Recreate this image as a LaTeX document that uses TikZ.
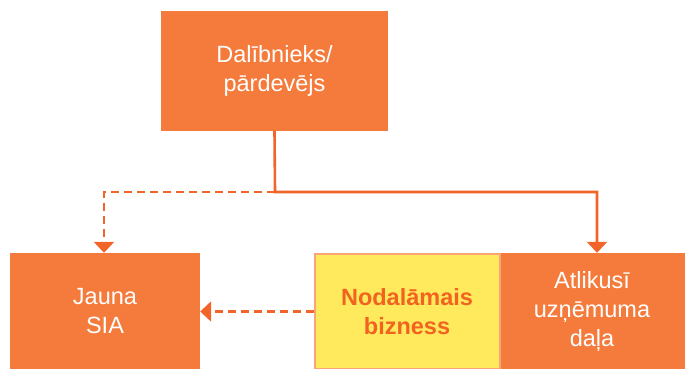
\documentclass[tikz,border=0pt]{standalone}
\usepackage{fontspec}
\setmainfont{Liberation Sans}
\usetikzlibrary{arrows.meta}
\definecolor{boxor}{HTML}{F47B3B}
\definecolor{lineor}{HTML}{F1652A}
\definecolor{yel}{HTML}{FFEA5E}
\definecolor{salmon}{HTML}{F9A577}
\definecolor{boldor}{HTML}{F1631F}
\tikzset{
  box/.style={fill=boxor, text=white, align=center, inner sep=0pt, font=\fontsize{23.5}{29}\selectfont},
  ybox/.style={fill=yel, draw=salmon, line width=2pt, text=boldor, align=center, inner sep=0pt, font=\fontsize{23.5}{29}\selectfont\bfseries},
  conn/.style={draw=lineor, line width=2.6pt, -{Triangle[width=20pt,length=11pt]}, color=lineor},
  dconn/.style={conn, dash pattern=on 8pt off 5pt},
}
\begin{document}
\begin{tikzpicture}[x=1pt,y=1pt]
\useasboundingbox (0,0) rectangle (685,369);
\node[box, minimum width=227pt, minimum height=120pt] (top) at (274.5,298) {Dalībnieks/\\pārdevējs};
\node[box, minimum width=190pt, minimum height=117pt] (jauna) at (105,57.5) {Jauna\\SIA};
\node[box, minimum width=186pt, minimum height=117pt] (atlik) at (592,57.5) {Atlikusī\\uzņēmuma\\daļa};
\node[ybox, minimum width=185pt, minimum height=115pt] (nodal) at (407,57.5) {Nodalāmais\\bizness};
\coordinate (j) at (275,177);
\draw[conn] (top.south) -- (j) -| ([xshift=5pt]atlik.north);
\draw[dconn] (j) -| ([xshift=-1pt]jauna.north);
\draw[dconn] (nodal.west) -- (jauna.east);
\end{tikzpicture}
\end{document}
